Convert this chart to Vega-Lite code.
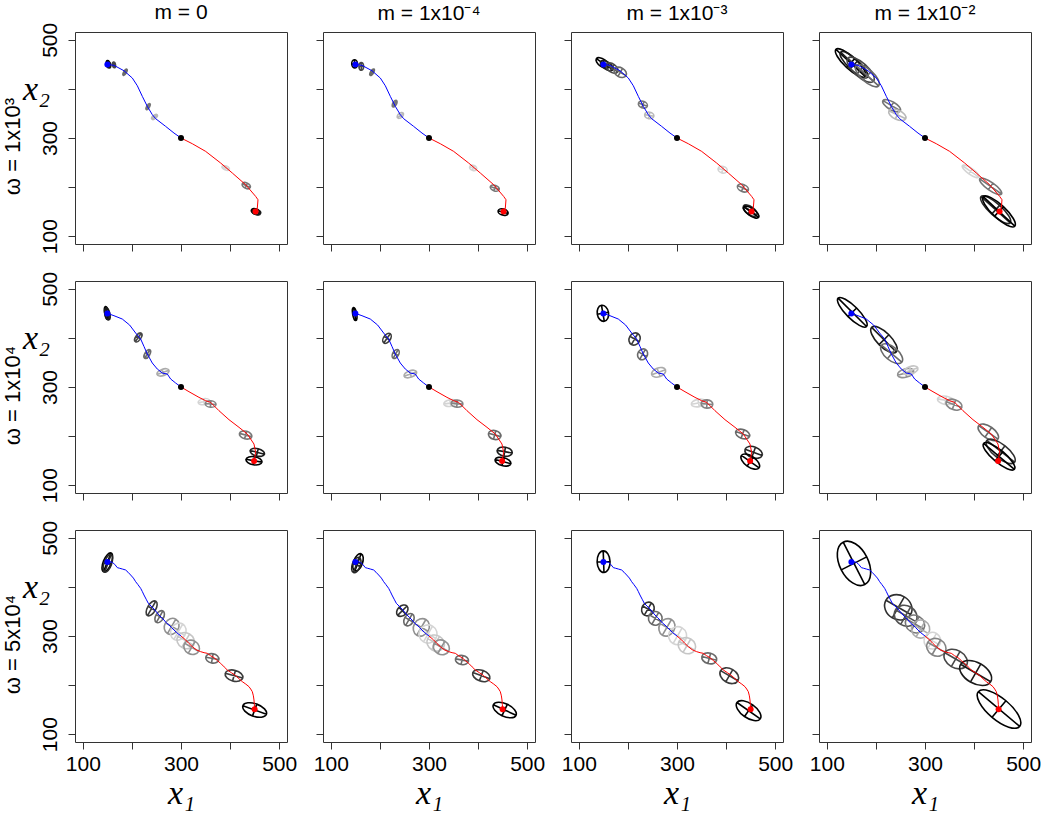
{
"$schema": "https://vega.github.io/schema/vega-lite/v6.json",
"background": "white",
"padding": {"left": 0, "top": 1, "right": 5, "bottom": 0},
"spacing": 15,
"datasets": {
"traj": [
{"row":1,"phase":"before","i":1,"x":150,"y":450},{"row":1,"phase":"before","i":2,"x":163.5,"y":448},{"row":1,"phase":"before","i":3,"x":183.8,"y":437.1},{"row":1,"phase":"before","i":4,"x":200.8,"y":422.2},{"row":1,"phase":"before","i":5,"x":211,"y":406.5},{"row":1,"phase":"before","i":6,"x":221.2,"y":384.8},{"row":1,"phase":"before","i":7,"x":231.4,"y":364.4},{"row":1,"phase":"before","i":8,"x":241.6,"y":347.5},{"row":1,"phase":"before","i":9,"x":248.4,"y":339.3},{"row":1,"phase":"before","i":10,"x":268.7,"y":323.7},{"row":1,"phase":"before","i":11,"x":285.7,"y":310.1},{"row":1,"phase":"before","i":12,"x":300,"y":300},
{"row":1,"phase":"after","i":13,"x":300,"y":300},{"row":1,"phase":"after","i":14,"x":323.1,"y":288.3},{"row":1,"phase":"after","i":15,"x":350.3,"y":272.7},{"row":1,"phase":"after","i":16,"x":380.8,"y":249},{"row":1,"phase":"after","i":17,"x":404.6,"y":228.6},{"row":1,"phase":"after","i":18,"x":431.8,"y":204.8},{"row":1,"phase":"after","i":19,"x":452.1,"y":181},{"row":1,"phase":"after","i":20,"x":456.9,"y":174.2},{"row":1,"phase":"after","i":21,"x":455.5,"y":157.2},{"row":1,"phase":"after","i":22,"x":452,"y":150},
{"row":2,"phase":"before","i":1,"x":150,"y":450},{"row":2,"phase":"before","i":2,"x":163.4,"y":445.3},{"row":2,"phase":"before","i":3,"x":180.4,"y":438.5},{"row":2,"phase":"before","i":4,"x":195.3,"y":426.3},{"row":2,"phase":"before","i":5,"x":207.6,"y":410},{"row":2,"phase":"before","i":6,"x":217.8,"y":397.8},{"row":2,"phase":"before","i":7,"x":224.5,"y":382.8},{"row":2,"phase":"before","i":8,"x":231.3,"y":367.2},{"row":2,"phase":"before","i":9,"x":241.5,"y":348.9},{"row":2,"phase":"before","i":10,"x":251.7,"y":336.6},{"row":2,"phase":"before","i":11,"x":261.9,"y":328.5},{"row":2,"phase":"before","i":12,"x":272.1,"y":326.4},{"row":2,"phase":"before","i":13,"x":278.9,"y":316.3},{"row":2,"phase":"before","i":14,"x":289.1,"y":308.1},{"row":2,"phase":"before","i":15,"x":300,"y":300},
{"row":2,"phase":"after","i":16,"x":300,"y":300},{"row":2,"phase":"after","i":17,"x":316.3,"y":290.4},{"row":2,"phase":"after","i":18,"x":336.6,"y":278.9},{"row":2,"phase":"after","i":19,"x":350.2,"y":272.1},{"row":2,"phase":"after","i":20,"x":360.4,"y":268.7},{"row":2,"phase":"after","i":21,"x":377.4,"y":251.7},{"row":2,"phase":"after","i":22,"x":397.8,"y":233.4},{"row":2,"phase":"after","i":23,"x":418.2,"y":217.8},{"row":2,"phase":"after","i":24,"x":435.1,"y":204.2},{"row":2,"phase":"after","i":25,"x":448.7,"y":183.8},{"row":2,"phase":"after","i":26,"x":452.1,"y":166.8},{"row":2,"phase":"after","i":27,"x":449,"y":149},
{"row":3,"phase":"before","i":1,"x":150,"y":451},{"row":3,"phase":"before","i":2,"x":155,"y":451.5},{"row":3,"phase":"before","i":3,"x":160,"y":450.1},{"row":3,"phase":"before","i":4,"x":165,"y":446},{"row":3,"phase":"before","i":5,"x":170.2,"y":439.3},{"row":3,"phase":"before","i":6,"x":175,"y":438},{"row":3,"phase":"before","i":7,"x":180.4,"y":436.5},{"row":3,"phase":"before","i":8,"x":187.2,"y":434.5},{"row":3,"phase":"before","i":9,"x":192,"y":430},{"row":3,"phase":"before","i":10,"x":197.4,"y":424.3},{"row":3,"phase":"before","i":11,"x":203,"y":418},{"row":3,"phase":"before","i":12,"x":207.6,"y":410.7},{"row":3,"phase":"before","i":13,"x":212,"y":405},{"row":3,"phase":"before","i":14,"x":217.8,"y":397.1},{"row":3,"phase":"before","i":15,"x":221,"y":391},{"row":3,"phase":"before","i":16,"x":224.5,"y":383.6},{"row":3,"phase":"before","i":17,"x":229,"y":375},{"row":3,"phase":"before","i":18,"x":233.4,"y":366.6},{"row":3,"phase":"before","i":19,"x":239,"y":361},{"row":3,"phase":"before","i":20,"x":244.9,"y":355},{"row":3,"phase":"before","i":21,"x":250,"y":349},{"row":3,"phase":"before","i":22,"x":255.1,"y":342.8},{"row":3,"phase":"before","i":23,"x":260,"y":338},{"row":3,"phase":"before","i":24,"x":265.3,"y":332.6},{"row":3,"phase":"before","i":25,"x":270,"y":327},{"row":3,"phase":"before","i":26,"x":275.5,"y":322.4},{"row":3,"phase":"before","i":27,"x":281,"y":317},{"row":3,"phase":"before","i":28,"x":285.7,"y":312.2},{"row":3,"phase":"before","i":29,"x":291,"y":307},{"row":3,"phase":"before","i":30,"x":300,"y":300},
{"row":3,"phase":"after","i":31,"x":300,"y":300},{"row":3,"phase":"after","i":32,"x":309.5,"y":291.9},{"row":3,"phase":"after","i":33,"x":316,"y":285},{"row":3,"phase":"after","i":34,"x":323.1,"y":278.3},{"row":3,"phase":"after","i":35,"x":331,"y":272},{"row":3,"phase":"after","i":36,"x":340,"y":268.1},{"row":3,"phase":"after","i":37,"x":347,"y":266},{"row":3,"phase":"after","i":38,"x":353.6,"y":264.7},{"row":3,"phase":"after","i":39,"x":360,"y":260},{"row":3,"phase":"after","i":40,"x":367.2,"y":255.9},{"row":3,"phase":"after","i":41,"x":374,"y":250},{"row":3,"phase":"after","i":42,"x":380.8,"y":244.3},{"row":3,"phase":"after","i":43,"x":388,"y":237},{"row":3,"phase":"after","i":44,"x":394.4,"y":230.7},{"row":3,"phase":"after","i":45,"x":403,"y":225},{"row":3,"phase":"after","i":46,"x":411.4,"y":219.2},{"row":3,"phase":"after","i":47,"x":418,"y":213},{"row":3,"phase":"after","i":48,"x":424.9,"y":207},{"row":3,"phase":"after","i":49,"x":432,"y":202},{"row":3,"phase":"after","i":50,"x":438.5,"y":196.8},{"row":3,"phase":"after","i":51,"x":442,"y":192},{"row":3,"phase":"after","i":52,"x":445.3,"y":186.6},{"row":3,"phase":"after","i":53,"x":447.5,"y":178},{"row":3,"phase":"after","i":54,"x":448.7,"y":169.6},{"row":3,"phase":"after","i":55,"x":449.5,"y":160},{"row":3,"phase":"after","i":56,"x":450,"y":150.6}
],
"pts": [
{"row":1,"kind":"start","x":150,"y":450},{"row":1,"kind":"mid","x":300,"y":300},{"row":1,"kind":"end","x":452,"y":150},
{"row":2,"kind":"start","x":150,"y":450},{"row":2,"kind":"mid","x":300,"y":300},{"row":2,"kind":"end","x":449,"y":149},
{"row":3,"kind":"start","x":150,"y":451},{"row":3,"kind":"end","x":450,"y":150.6}
],
"ell": [
{"row":1,"col":1,"x":151,"y":451,"major":14,"r":"0.5","angle":85,"shade":0},
{"row":1,"col":1,"x":153,"y":449,"major":13,"r":"0.6","angle":80,"shade":0.1},
{"row":1,"col":1,"x":163.5,"y":449,"major":12,"r":"0.5","angle":80,"shade":0.3},
{"row":1,"col":1,"x":186,"y":434,"major":14,"r":"0.4","angle":-60,"shade":0.45},
{"row":1,"col":1,"x":233,"y":364,"major":14,"r":"0.4","angle":-60,"shade":0.5},
{"row":1,"col":1,"x":246,"y":343,"major":14,"r":"0.5","angle":-40,"shade":0.75},
{"row":1,"col":1,"x":391,"y":239,"major":16,"r":"0.5","angle":20,"shade":0.85},
{"row":1,"col":1,"x":433,"y":203,"major":18,"r":"0.6","angle":25,"shade":0.5},
{"row":1,"col":1,"x":452,"y":150,"major":18,"r":"0.6","angle":20,"shade":0},
{"row":1,"col":1,"x":454,"y":149,"major":17,"r":"0.6","angle":15,"shade":0.1},
{"row":1,"col":2,"x":148.5,"y":451,"major":17,"r":"0.7","angle":85,"shade":0},
{"row":1,"col":2,"x":162,"y":446,"major":16,"r":"0.6","angle":85,"shade":0.3},
{"row":1,"col":2,"x":184,"y":434,"major":15,"r":"0.4","angle":-60,"shade":0.45},
{"row":1,"col":2,"x":230,"y":370,"major":15,"r":"0.5","angle":-60,"shade":0.5},
{"row":1,"col":2,"x":241.6,"y":346,"major":15,"r":"0.6","angle":-40,"shade":0.75},
{"row":1,"col":2,"x":390,"y":239,"major":15,"r":"0.7","angle":20,"shade":0.85},
{"row":1,"col":2,"x":434,"y":198,"major":19,"r":"0.6","angle":20,"shade":0.5},
{"row":1,"col":2,"x":451,"y":149,"major":21,"r":"0.6","angle":15,"shade":0},
{"row":1,"col":3,"x":148.4,"y":452.8,"major":31,"r":"0.5","angle":35,"shade":0},
{"row":1,"col":3,"x":157,"y":447.4,"major":30,"r":"0.5","angle":35,"shade":0.1},
{"row":1,"col":3,"x":167.4,"y":442.6,"major":28,"r":"0.6","angle":35,"shade":0.3},
{"row":1,"col":3,"x":184.4,"y":433.8,"major":27,"r":"0.7","angle":30,"shade":0.45},
{"row":1,"col":3,"x":230.5,"y":368,"major":19,"r":"0.7","angle":20,"shade":0.5},
{"row":1,"col":3,"x":243.5,"y":346,"major":19,"r":"0.7","angle":10,"shade":0.75},
{"row":1,"col":3,"x":393,"y":235.4,"major":19,"r":"0.7","angle":15,"shade":0.85},
{"row":1,"col":3,"x":434.3,"y":198,"major":24,"r":"0.6","angle":25,"shade":0.5},
{"row":1,"col":3,"x":449,"y":152,"major":33,"r":"0.5","angle":35,"shade":0.2},
{"row":1,"col":3,"x":451.3,"y":149,"major":37,"r":"0.4","angle":35,"shade":0},
{"row":1,"col":4,"x":148.5,"y":452.7,"major":82,"r":"0.3","angle":43,"shade":0},
{"row":1,"col":4,"x":155.3,"y":449.3,"major":75,"r":"0.3","angle":43,"shade":0.1},
{"row":1,"col":4,"x":168.9,"y":439.1,"major":70,"r":"0.4","angle":42,"shade":0.3},
{"row":1,"col":4,"x":182.4,"y":426.9,"major":62,"r":"0.4","angle":42,"shade":0.45},
{"row":1,"col":4,"x":232,"y":365.8,"major":41,"r":"0.4","angle":30,"shade":0.5},
{"row":1,"col":4,"x":243.6,"y":347.4,"major":38,"r":"0.5","angle":25,"shade":0.75},
{"row":1,"col":4,"x":393,"y":232,"major":41,"r":"0.3","angle":35,"shade":0.85},
{"row":1,"col":4,"x":433.8,"y":201.4,"major":54,"r":"0.3","angle":35,"shade":0.5},
{"row":1,"col":4,"x":444,"y":153.8,"major":80,"r":"0.3","angle":42,"shade":0.15},
{"row":1,"col":4,"x":450.8,"y":150.4,"major":88,"r":"0.3","angle":43,"shade":0},
{"row":2,"col":1,"x":148.5,"y":450.8,"major":27,"r":"0.3","angle":80,"shade":0},
{"row":2,"col":1,"x":150,"y":449,"major":25,"r":"0.4","angle":75,"shade":0.1},
{"row":2,"col":1,"x":213,"y":401,"major":21,"r":"0.5","angle":-55,"shade":0.3},
{"row":2,"col":1,"x":231.3,"y":367.2,"major":20,"r":"0.5","angle":-60,"shade":0.45},
{"row":2,"col":1,"x":263.3,"y":329.8,"major":26,"r":"0.5","angle":-20,"shade":0.7},
{"row":2,"col":1,"x":346.8,"y":270.1,"major":24,"r":"0.5","angle":-10,"shade":0.85},
{"row":2,"col":1,"x":360.4,"y":265.3,"major":22,"r":"0.6","angle":5,"shade":0.55},
{"row":2,"col":1,"x":431.7,"y":202.1,"major":26,"r":"0.6","angle":15,"shade":0.5},
{"row":2,"col":1,"x":455.5,"y":166.8,"major":30,"r":"0.5","angle":15,"shade":0.1},
{"row":2,"col":1,"x":448.7,"y":149.8,"major":33,"r":"0.5","angle":10,"shade":0},
{"row":2,"col":2,"x":148.5,"y":448.8,"major":27,"r":"0.3","angle":80,"shade":0},
{"row":2,"col":2,"x":214.4,"y":399.2,"major":23,"r":"0.6","angle":-55,"shade":0.25},
{"row":2,"col":2,"x":232.1,"y":367.3,"major":20,"r":"0.6","angle":-60,"shade":0.45},
{"row":2,"col":2,"x":262,"y":326.5,"major":27,"r":"0.5","angle":-20,"shade":0.7},
{"row":2,"col":2,"x":343.5,"y":267.4,"major":27,"r":"0.5","angle":-10,"shade":0.85},
{"row":2,"col":2,"x":357.1,"y":266.1,"major":24,"r":"0.6","angle":5,"shade":0.55},
{"row":2,"col":2,"x":433.8,"y":202.2,"major":26,"r":"0.7","angle":15,"shade":0.45},
{"row":2,"col":2,"x":454.2,"y":168.2,"major":31,"r":"0.6","angle":10,"shade":0.1},
{"row":2,"col":2,"x":450.8,"y":147.9,"major":33,"r":"0.5","angle":15,"shade":0},
{"row":2,"col":3,"x":149,"y":450.2,"major":33,"r":"0.7","angle":80,"shade":0},
{"row":2,"col":3,"x":213.6,"y":397.8,"major":26,"r":"0.85","angle":-60,"shade":0.25},
{"row":2,"col":3,"x":229.9,"y":366.6,"major":23,"r":"0.85","angle":-60,"shade":0.45},
{"row":2,"col":3,"x":262.5,"y":329.9,"major":30,"r":"0.6","angle":-20,"shade":0.7},
{"row":2,"col":3,"x":344,"y":267.4,"major":30,"r":"0.5","angle":-10,"shade":0.85},
{"row":2,"col":3,"x":361,"y":265.4,"major":24,"r":"0.7","angle":5,"shade":0.55},
{"row":2,"col":3,"x":433.7,"y":204.2,"major":30,"r":"0.6","angle":20,"shade":0.45},
{"row":2,"col":3,"x":456.1,"y":166.9,"major":37,"r":"0.6","angle":20,"shade":0.15},
{"row":2,"col":3,"x":449.3,"y":147.9,"major":44,"r":"0.5","angle":35,"shade":0},
{"row":2,"col":4,"x":151.9,"y":452.2,"major":82,"r":"0.3","angle":45,"shade":0},
{"row":2,"col":4,"x":216.4,"y":396.5,"major":71,"r":"0.4","angle":45,"shade":0.1},
{"row":2,"col":4,"x":232,"y":367.9,"major":54,"r":"0.5","angle":40,"shade":0.45},
{"row":2,"col":4,"x":260.6,"y":328.5,"major":34,"r":"0.5","angle":-15,"shade":0.6},
{"row":2,"col":4,"x":270.8,"y":334,"major":31,"r":"0.5","angle":-20,"shade":0.8},
{"row":2,"col":4,"x":342.1,"y":272.8,"major":34,"r":"0.5","angle":10,"shade":0.85},
{"row":2,"col":4,"x":359.1,"y":264,"major":34,"r":"0.6","angle":20,"shade":0.55},
{"row":2,"col":4,"x":429,"y":207.6,"major":48,"r":"0.5","angle":35,"shade":0.45},
{"row":2,"col":4,"x":454.2,"y":168.9,"major":72,"r":"0.4","angle":38,"shade":0.2},
{"row":2,"col":4,"x":450.8,"y":158.7,"major":82,"r":"0.3","angle":40,"shade":0},
{"row":3,"col":1,"x":149.8,"y":450.1,"major":41,"r":"0.4","angle":-68,"shade":0},
{"row":3,"col":1,"x":151,"y":448,"major":38,"r":"0.4","angle":-70,"shade":0.15},
{"row":3,"col":1,"x":240.2,"y":356.3,"major":34,"r":"0.5","angle":-60,"shade":0.25},
{"row":3,"col":1,"x":256.5,"y":339.4,"major":27,"r":"0.6","angle":-60,"shade":0.45},
{"row":3,"col":1,"x":280.9,"y":319.7,"major":34,"r":"0.85","angle":-60,"shade":0.6},
{"row":3,"col":1,"x":294.5,"y":308.8,"major":36,"r":"0.85","angle":-60,"shade":0.85},
{"row":3,"col":1,"x":309.5,"y":290.4,"major":37,"r":"0.85","angle":30,"shade":0.8},
{"row":3,"col":1,"x":321.7,"y":276.9,"major":33,"r":"0.85","angle":30,"shade":0.6},
{"row":3,"col":1,"x":363.8,"y":254.4,"major":27,"r":"0.7","angle":10,"shade":0.45},
{"row":3,"col":1,"x":408,"y":219.1,"major":37,"r":"0.6","angle":15,"shade":0.25},
{"row":3,"col":1,"x":450.1,"y":149.2,"major":51,"r":"0.5","angle":20,"shade":0},
{"row":3,"col":2,"x":155.3,"y":450.1,"major":37,"r":"0.5","angle":-70,"shade":0},
{"row":3,"col":2,"x":151.9,"y":444.7,"major":33,"r":"0.5","angle":-70,"shade":0.15},
{"row":3,"col":2,"x":245.6,"y":351.6,"major":27,"r":"0.7","angle":-45,"shade":0.2},
{"row":3,"col":2,"x":259.2,"y":333.3,"major":27,"r":"0.7","angle":-60,"shade":0.45},
{"row":3,"col":2,"x":284.4,"y":317.6,"major":37,"r":"0.85","angle":-60,"shade":0.6},
{"row":3,"col":2,"x":298,"y":304.1,"major":37,"r":"1","angle":-60,"shade":0.85},
{"row":3,"col":2,"x":313.6,"y":285.7,"major":37,"r":"0.85","angle":30,"shade":0.8},
{"row":3,"col":2,"x":325.1,"y":276.9,"major":34,"r":"0.85","angle":30,"shade":0.6},
{"row":3,"col":2,"x":367.2,"y":251.1,"major":27,"r":"0.7","angle":10,"shade":0.45},
{"row":3,"col":2,"x":406.6,"y":219.1,"major":37,"r":"0.6","angle":20,"shade":0.25},
{"row":3,"col":2,"x":454.2,"y":149.2,"major":51,"r":"0.5","angle":25,"shade":0},
{"row":3,"col":3,"x":150.4,"y":451.4,"major":44,"r":"0.6","angle":88,"shade":0},
{"row":3,"col":3,"x":240.7,"y":355,"major":29,"r":"0.85","angle":-60,"shade":0.2},
{"row":3,"col":3,"x":255.7,"y":336,"major":28,"r":"1","angle":-60,"shade":0.45},
{"row":3,"col":3,"x":279.5,"y":317.6,"major":37,"r":"0.85","angle":-60,"shade":0.6},
{"row":3,"col":3,"x":301.2,"y":300.6,"major":37,"r":"1","angle":-60,"shade":0.85},
{"row":3,"col":3,"x":320.2,"y":280.3,"major":37,"r":"0.85","angle":30,"shade":0.8},
{"row":3,"col":3,"x":365.7,"y":254.4,"major":31,"r":"0.7","angle":15,"shade":0.45},
{"row":3,"col":3,"x":406.5,"y":219.1,"major":41,"r":"0.7","angle":30,"shade":0.25},
{"row":3,"col":3,"x":445.9,"y":147.8,"major":58,"r":"0.5","angle":35,"shade":0},
{"row":3,"col":4,"x":155.3,"y":448,"major":97,"r":"0.6","angle":63,"shade":0},
{"row":3,"col":4,"x":245.6,"y":358.4,"major":58,"r":"0.85","angle":30,"shade":0.2},
{"row":3,"col":4,"x":260.6,"y":341.4,"major":48,"r":"0.85","angle":30,"shade":0.35},
{"row":3,"col":4,"x":279.6,"y":324.4,"major":41,"r":"0.85","angle":30,"shade":0.5},
{"row":3,"col":4,"x":291.1,"y":314.2,"major":37,"r":"1","angle":30,"shade":0.7},
{"row":3,"col":4,"x":314.9,"y":290.5,"major":34,"r":"1","angle":30,"shade":0.85},
{"row":3,"col":4,"x":323.1,"y":276.9,"major":41,"r":"0.85","angle":30,"shade":0.55},
{"row":3,"col":4,"x":362.5,"y":253.1,"major":51,"r":"0.7","angle":30,"shade":0.3},
{"row":3,"col":4,"x":403.2,"y":224.6,"major":71,"r":"0.6","angle":30,"shade":0.1},
{"row":3,"col":4,"x":450.8,"y":151.2,"major":110,"r":"0.4","angle":40,"shade":0}
]
},
"vconcat": [
{"spacing": 36, "bounds": "flush",
 "hconcat": [
{"width":212,"height":212,"title":{"text":"m = 0","frame":"group","anchor":"middle","offset":-18,"baseline":"alphabetic"},
 "resolve":{"scale":{"y":"independent"}},
 "encoding":{"x":{"field":"x","type":"quantitative","scale":{"domain":[84,516],"nice":false,"zero":false},"axis":{"title":null,"labels":false}}},
 "layer":[
  {"data":{"name":"ell"},"transform":[{"filter":"datum.row==1 && datum.col==1"}],"mark":{"type":"point","filled":false,"strokeWidth":1.6,"opacity":1},"encoding":{"y":{"field":"y","type":"quantitative","scale":{"domain":[84,516],"nice":false,"zero":false},"axis":{"title":"x₂","labels":true,"titleAngle":0,"titleX":-39,"titleY":57,"titleAlign":"center","titleBaseline":"middle"}},"size":{"field":"major","type":"quantitative","scale":{"type":"pow","exponent":2,"domain":[0,100],"range":[0,2408],"zero":true},"legend":null},"shape":{"field":"r","type":"nominal","scale":{"domain":["0.3","0.4","0.5","0.6","0.7","0.85","1"]},"legend":null},"angle":{"field":"angle","type":"quantitative","scale":null},"stroke":{"field":"shade","type":"quantitative","scale":{"domain":[0,1],"range":["#000000","#ffffff"]},"legend":null}}},
  {"data":{"name":"traj"},"transform":[{"filter":"datum.row==1"}],"mark":{"type":"line","strokeWidth":1},"encoding":{"y":{"field":"y","type":"quantitative","scale":{"domain":[84,516],"nice":false,"zero":false},"axis":{"orient":"left","title":"ω = 1x10³","labels":false,"ticks":false,"domain":false,"titleFont":"Liberation Sans","titleFontStyle":"normal","titleFontSize":22,"titleAngle":-90,"titleX":-56,"titleY":114,"titleAlign":"center","titleBaseline":"alphabetic"}},"color":{"field":"phase","type":"nominal","scale":{"domain":["before","after"],"range":["#0000ff","#ff0000"]},"legend":null},"order":{"field":"i","type":"quantitative"}}},
  {"data":{"name":"pts"},"transform":[{"filter":"datum.row==1"}],"mark":{"type":"circle","opacity":1,"size":36},"encoding":{"y":{"field":"y","type":"quantitative","scale":{"domain":[84,516],"nice":false,"zero":false},"axis":null},"fill":{"field":"kind","type":"nominal","scale":{"domain":["start","mid","end"],"range":["#0000ff","#000000","#ff0000"]},"legend":null}}}
 ]},
{"width":212,"height":212,"title":{"text":"m = 1x10⁻⁴","frame":"group","anchor":"middle","offset":-9,"baseline":"alphabetic"},
 "encoding":{"x":{"field":"x","type":"quantitative","scale":{"domain":[84,516],"nice":false,"zero":false},"axis":{"title":null,"labels":false}},"y":{"field":"y","type":"quantitative","scale":{"domain":[84,516],"nice":false,"zero":false},"axis":{"title":null,"labels":false}}},
 "layer":[
  {"data":{"name":"ell"},"transform":[{"filter":"datum.row==1 && datum.col==2"}],"mark":{"type":"point","filled":false,"strokeWidth":1.6,"opacity":1},"encoding":{"size":{"field":"major","type":"quantitative","scale":{"type":"pow","exponent":2,"domain":[0,100],"range":[0,2408],"zero":true},"legend":null},"shape":{"field":"r","type":"nominal","scale":{"domain":["0.3","0.4","0.5","0.6","0.7","0.85","1"]},"legend":null},"angle":{"field":"angle","type":"quantitative","scale":null},"stroke":{"field":"shade","type":"quantitative","scale":{"domain":[0,1],"range":["#000000","#ffffff"]},"legend":null}}},
  {"data":{"name":"traj"},"transform":[{"filter":"datum.row==1"}],"mark":{"type":"line","strokeWidth":1},"encoding":{"color":{"field":"phase","type":"nominal","scale":{"domain":["before","after"],"range":["#0000ff","#ff0000"]},"legend":null},"order":{"field":"i","type":"quantitative"}}},
  {"data":{"name":"pts"},"transform":[{"filter":"datum.row==1"}],"mark":{"type":"circle","opacity":1,"size":36},"encoding":{"fill":{"field":"kind","type":"nominal","scale":{"domain":["start","mid","end"],"range":["#0000ff","#000000","#ff0000"]},"legend":null}}}
 ]},
{"width":212,"height":212,"title":{"text":"m = 1x10⁻³","frame":"group","anchor":"middle","offset":-9,"baseline":"alphabetic"},
 "encoding":{"x":{"field":"x","type":"quantitative","scale":{"domain":[84,516],"nice":false,"zero":false},"axis":{"title":null,"labels":false}},"y":{"field":"y","type":"quantitative","scale":{"domain":[84,516],"nice":false,"zero":false},"axis":{"title":null,"labels":false}}},
 "layer":[
  {"data":{"name":"ell"},"transform":[{"filter":"datum.row==1 && datum.col==3"}],"mark":{"type":"point","filled":false,"strokeWidth":1.6,"opacity":1},"encoding":{"size":{"field":"major","type":"quantitative","scale":{"type":"pow","exponent":2,"domain":[0,100],"range":[0,2408],"zero":true},"legend":null},"shape":{"field":"r","type":"nominal","scale":{"domain":["0.3","0.4","0.5","0.6","0.7","0.85","1"]},"legend":null},"angle":{"field":"angle","type":"quantitative","scale":null},"stroke":{"field":"shade","type":"quantitative","scale":{"domain":[0,1],"range":["#000000","#ffffff"]},"legend":null}}},
  {"data":{"name":"traj"},"transform":[{"filter":"datum.row==1"}],"mark":{"type":"line","strokeWidth":1},"encoding":{"color":{"field":"phase","type":"nominal","scale":{"domain":["before","after"],"range":["#0000ff","#ff0000"]},"legend":null},"order":{"field":"i","type":"quantitative"}}},
  {"data":{"name":"pts"},"transform":[{"filter":"datum.row==1"}],"mark":{"type":"circle","opacity":1,"size":36},"encoding":{"fill":{"field":"kind","type":"nominal","scale":{"domain":["start","mid","end"],"range":["#0000ff","#000000","#ff0000"]},"legend":null}}}
 ]},
{"width":212,"height":212,"title":{"text":"m = 1x10⁻²","frame":"group","anchor":"middle","offset":-9,"baseline":"alphabetic"},
 "encoding":{"x":{"field":"x","type":"quantitative","scale":{"domain":[84,516],"nice":false,"zero":false},"axis":{"title":null,"labels":false}},"y":{"field":"y","type":"quantitative","scale":{"domain":[84,516],"nice":false,"zero":false},"axis":{"title":null,"labels":false}}},
 "layer":[
  {"data":{"name":"ell"},"transform":[{"filter":"datum.row==1 && datum.col==4"}],"mark":{"type":"point","filled":false,"strokeWidth":1.6,"opacity":1},"encoding":{"size":{"field":"major","type":"quantitative","scale":{"type":"pow","exponent":2,"domain":[0,100],"range":[0,2408],"zero":true},"legend":null},"shape":{"field":"r","type":"nominal","scale":{"domain":["0.3","0.4","0.5","0.6","0.7","0.85","1"]},"legend":null},"angle":{"field":"angle","type":"quantitative","scale":null},"stroke":{"field":"shade","type":"quantitative","scale":{"domain":[0,1],"range":["#000000","#ffffff"]},"legend":null}}},
  {"data":{"name":"traj"},"transform":[{"filter":"datum.row==1"}],"mark":{"type":"line","strokeWidth":1},"encoding":{"color":{"field":"phase","type":"nominal","scale":{"domain":["before","after"],"range":["#0000ff","#ff0000"]},"legend":null},"order":{"field":"i","type":"quantitative"}}},
  {"data":{"name":"pts"},"transform":[{"filter":"datum.row==1"}],"mark":{"type":"circle","opacity":1,"size":36},"encoding":{"fill":{"field":"kind","type":"nominal","scale":{"domain":["start","mid","end"],"range":["#0000ff","#000000","#ff0000"]},"legend":null}}}
 ]}
 ]},
{"spacing": 36, "bounds": "flush",
 "hconcat": [
{"width":212,"height":212,
 "resolve":{"scale":{"y":"independent"}},
 "encoding":{"x":{"field":"x","type":"quantitative","scale":{"domain":[84,516],"nice":false,"zero":false},"axis":{"title":null,"labels":false}}},
 "layer":[
  {"data":{"name":"ell"},"transform":[{"filter":"datum.row==2 && datum.col==1"}],"mark":{"type":"point","filled":false,"strokeWidth":1.6,"opacity":1},"encoding":{"y":{"field":"y","type":"quantitative","scale":{"domain":[84,516],"nice":false,"zero":false},"axis":{"title":"x₂","labels":true,"titleAngle":0,"titleX":-39,"titleY":57,"titleAlign":"center","titleBaseline":"middle"}},"size":{"field":"major","type":"quantitative","scale":{"type":"pow","exponent":2,"domain":[0,100],"range":[0,2408],"zero":true},"legend":null},"shape":{"field":"r","type":"nominal","scale":{"domain":["0.3","0.4","0.5","0.6","0.7","0.85","1"]},"legend":null},"angle":{"field":"angle","type":"quantitative","scale":null},"stroke":{"field":"shade","type":"quantitative","scale":{"domain":[0,1],"range":["#000000","#ffffff"]},"legend":null}}},
  {"data":{"name":"traj"},"transform":[{"filter":"datum.row==2"}],"mark":{"type":"line","strokeWidth":1},"encoding":{"y":{"field":"y","type":"quantitative","scale":{"domain":[84,516],"nice":false,"zero":false},"axis":{"orient":"left","title":"ω = 1x10⁴","labels":false,"ticks":false,"domain":false,"titleFont":"Liberation Sans","titleFontStyle":"normal","titleFontSize":22,"titleAngle":-90,"titleX":-56,"titleY":114,"titleAlign":"center","titleBaseline":"alphabetic"}},"color":{"field":"phase","type":"nominal","scale":{"domain":["before","after"],"range":["#0000ff","#ff0000"]},"legend":null},"order":{"field":"i","type":"quantitative"}}},
  {"data":{"name":"pts"},"transform":[{"filter":"datum.row==2"}],"mark":{"type":"circle","opacity":1,"size":36},"encoding":{"y":{"field":"y","type":"quantitative","scale":{"domain":[84,516],"nice":false,"zero":false},"axis":null},"fill":{"field":"kind","type":"nominal","scale":{"domain":["start","mid","end"],"range":["#0000ff","#000000","#ff0000"]},"legend":null}}}
 ]},
{"width":212,"height":212,
 "encoding":{"x":{"field":"x","type":"quantitative","scale":{"domain":[84,516],"nice":false,"zero":false},"axis":{"title":null,"labels":false}},"y":{"field":"y","type":"quantitative","scale":{"domain":[84,516],"nice":false,"zero":false},"axis":{"title":null,"labels":false}}},
 "layer":[
  {"data":{"name":"ell"},"transform":[{"filter":"datum.row==2 && datum.col==2"}],"mark":{"type":"point","filled":false,"strokeWidth":1.6,"opacity":1},"encoding":{"size":{"field":"major","type":"quantitative","scale":{"type":"pow","exponent":2,"domain":[0,100],"range":[0,2408],"zero":true},"legend":null},"shape":{"field":"r","type":"nominal","scale":{"domain":["0.3","0.4","0.5","0.6","0.7","0.85","1"]},"legend":null},"angle":{"field":"angle","type":"quantitative","scale":null},"stroke":{"field":"shade","type":"quantitative","scale":{"domain":[0,1],"range":["#000000","#ffffff"]},"legend":null}}},
  {"data":{"name":"traj"},"transform":[{"filter":"datum.row==2"}],"mark":{"type":"line","strokeWidth":1},"encoding":{"color":{"field":"phase","type":"nominal","scale":{"domain":["before","after"],"range":["#0000ff","#ff0000"]},"legend":null},"order":{"field":"i","type":"quantitative"}}},
  {"data":{"name":"pts"},"transform":[{"filter":"datum.row==2"}],"mark":{"type":"circle","opacity":1,"size":36},"encoding":{"fill":{"field":"kind","type":"nominal","scale":{"domain":["start","mid","end"],"range":["#0000ff","#000000","#ff0000"]},"legend":null}}}
 ]},
{"width":212,"height":212,
 "encoding":{"x":{"field":"x","type":"quantitative","scale":{"domain":[84,516],"nice":false,"zero":false},"axis":{"title":null,"labels":false}},"y":{"field":"y","type":"quantitative","scale":{"domain":[84,516],"nice":false,"zero":false},"axis":{"title":null,"labels":false}}},
 "layer":[
  {"data":{"name":"ell"},"transform":[{"filter":"datum.row==2 && datum.col==3"}],"mark":{"type":"point","filled":false,"strokeWidth":1.6,"opacity":1},"encoding":{"size":{"field":"major","type":"quantitative","scale":{"type":"pow","exponent":2,"domain":[0,100],"range":[0,2408],"zero":true},"legend":null},"shape":{"field":"r","type":"nominal","scale":{"domain":["0.3","0.4","0.5","0.6","0.7","0.85","1"]},"legend":null},"angle":{"field":"angle","type":"quantitative","scale":null},"stroke":{"field":"shade","type":"quantitative","scale":{"domain":[0,1],"range":["#000000","#ffffff"]},"legend":null}}},
  {"data":{"name":"traj"},"transform":[{"filter":"datum.row==2"}],"mark":{"type":"line","strokeWidth":1},"encoding":{"color":{"field":"phase","type":"nominal","scale":{"domain":["before","after"],"range":["#0000ff","#ff0000"]},"legend":null},"order":{"field":"i","type":"quantitative"}}},
  {"data":{"name":"pts"},"transform":[{"filter":"datum.row==2"}],"mark":{"type":"circle","opacity":1,"size":36},"encoding":{"fill":{"field":"kind","type":"nominal","scale":{"domain":["start","mid","end"],"range":["#0000ff","#000000","#ff0000"]},"legend":null}}}
 ]},
{"width":212,"height":212,
 "encoding":{"x":{"field":"x","type":"quantitative","scale":{"domain":[84,516],"nice":false,"zero":false},"axis":{"title":null,"labels":false}},"y":{"field":"y","type":"quantitative","scale":{"domain":[84,516],"nice":false,"zero":false},"axis":{"title":null,"labels":false}}},
 "layer":[
  {"data":{"name":"ell"},"transform":[{"filter":"datum.row==2 && datum.col==4"}],"mark":{"type":"point","filled":false,"strokeWidth":1.6,"opacity":1},"encoding":{"size":{"field":"major","type":"quantitative","scale":{"type":"pow","exponent":2,"domain":[0,100],"range":[0,2408],"zero":true},"legend":null},"shape":{"field":"r","type":"nominal","scale":{"domain":["0.3","0.4","0.5","0.6","0.7","0.85","1"]},"legend":null},"angle":{"field":"angle","type":"quantitative","scale":null},"stroke":{"field":"shade","type":"quantitative","scale":{"domain":[0,1],"range":["#000000","#ffffff"]},"legend":null}}},
  {"data":{"name":"traj"},"transform":[{"filter":"datum.row==2"}],"mark":{"type":"line","strokeWidth":1},"encoding":{"color":{"field":"phase","type":"nominal","scale":{"domain":["before","after"],"range":["#0000ff","#ff0000"]},"legend":null},"order":{"field":"i","type":"quantitative"}}},
  {"data":{"name":"pts"},"transform":[{"filter":"datum.row==2"}],"mark":{"type":"circle","opacity":1,"size":36},"encoding":{"fill":{"field":"kind","type":"nominal","scale":{"domain":["start","mid","end"],"range":["#0000ff","#000000","#ff0000"]},"legend":null}}}
 ]}
 ]},
{"spacing": 36, "bounds": "flush",
 "hconcat": [
{"width":212,"height":212,
 "resolve":{"scale":{"y":"independent"}},
 "encoding":{"x":{"field":"x","type":"quantitative","scale":{"domain":[84,516],"nice":false,"zero":false},"axis":{"title":"x₁","labels":true}}},
 "layer":[
  {"data":{"name":"ell"},"transform":[{"filter":"datum.row==3 && datum.col==1"}],"mark":{"type":"point","filled":false,"strokeWidth":1.6,"opacity":1},"encoding":{"y":{"field":"y","type":"quantitative","scale":{"domain":[84,516],"nice":false,"zero":false},"axis":{"title":"x₂","labels":true,"titleAngle":0,"titleX":-39,"titleY":57,"titleAlign":"center","titleBaseline":"middle"}},"size":{"field":"major","type":"quantitative","scale":{"type":"pow","exponent":2,"domain":[0,100],"range":[0,2408],"zero":true},"legend":null},"shape":{"field":"r","type":"nominal","scale":{"domain":["0.3","0.4","0.5","0.6","0.7","0.85","1"]},"legend":null},"angle":{"field":"angle","type":"quantitative","scale":null},"stroke":{"field":"shade","type":"quantitative","scale":{"domain":[0,1],"range":["#000000","#ffffff"]},"legend":null}}},
  {"data":{"name":"traj"},"transform":[{"filter":"datum.row==3"}],"mark":{"type":"line","strokeWidth":1},"encoding":{"y":{"field":"y","type":"quantitative","scale":{"domain":[84,516],"nice":false,"zero":false},"axis":{"orient":"left","title":"ω = 5x10⁴","labels":false,"ticks":false,"domain":false,"titleFont":"Liberation Sans","titleFontStyle":"normal","titleFontSize":22,"titleAngle":-90,"titleX":-56,"titleY":114,"titleAlign":"center","titleBaseline":"alphabetic"}},"color":{"field":"phase","type":"nominal","scale":{"domain":["before","after"],"range":["#0000ff","#ff0000"]},"legend":null},"order":{"field":"i","type":"quantitative"}}},
  {"data":{"name":"pts"},"transform":[{"filter":"datum.row==3"}],"mark":{"type":"circle","opacity":1,"size":36},"encoding":{"y":{"field":"y","type":"quantitative","scale":{"domain":[84,516],"nice":false,"zero":false},"axis":null},"fill":{"field":"kind","type":"nominal","scale":{"domain":["start","mid","end"],"range":["#0000ff","#000000","#ff0000"]},"legend":null}}}
 ]},
{"width":212,"height":212,
 "encoding":{"x":{"field":"x","type":"quantitative","scale":{"domain":[84,516],"nice":false,"zero":false},"axis":{"title":"x₁","labels":true}},"y":{"field":"y","type":"quantitative","scale":{"domain":[84,516],"nice":false,"zero":false},"axis":{"title":null,"labels":false}}},
 "layer":[
  {"data":{"name":"ell"},"transform":[{"filter":"datum.row==3 && datum.col==2"}],"mark":{"type":"point","filled":false,"strokeWidth":1.6,"opacity":1},"encoding":{"size":{"field":"major","type":"quantitative","scale":{"type":"pow","exponent":2,"domain":[0,100],"range":[0,2408],"zero":true},"legend":null},"shape":{"field":"r","type":"nominal","scale":{"domain":["0.3","0.4","0.5","0.6","0.7","0.85","1"]},"legend":null},"angle":{"field":"angle","type":"quantitative","scale":null},"stroke":{"field":"shade","type":"quantitative","scale":{"domain":[0,1],"range":["#000000","#ffffff"]},"legend":null}}},
  {"data":{"name":"traj"},"transform":[{"filter":"datum.row==3"}],"mark":{"type":"line","strokeWidth":1},"encoding":{"color":{"field":"phase","type":"nominal","scale":{"domain":["before","after"],"range":["#0000ff","#ff0000"]},"legend":null},"order":{"field":"i","type":"quantitative"}}},
  {"data":{"name":"pts"},"transform":[{"filter":"datum.row==3"}],"mark":{"type":"circle","opacity":1,"size":36},"encoding":{"fill":{"field":"kind","type":"nominal","scale":{"domain":["start","mid","end"],"range":["#0000ff","#000000","#ff0000"]},"legend":null}}}
 ]},
{"width":212,"height":212,
 "encoding":{"x":{"field":"x","type":"quantitative","scale":{"domain":[84,516],"nice":false,"zero":false},"axis":{"title":"x₁","labels":true}},"y":{"field":"y","type":"quantitative","scale":{"domain":[84,516],"nice":false,"zero":false},"axis":{"title":null,"labels":false}}},
 "layer":[
  {"data":{"name":"ell"},"transform":[{"filter":"datum.row==3 && datum.col==3"}],"mark":{"type":"point","filled":false,"strokeWidth":1.6,"opacity":1},"encoding":{"size":{"field":"major","type":"quantitative","scale":{"type":"pow","exponent":2,"domain":[0,100],"range":[0,2408],"zero":true},"legend":null},"shape":{"field":"r","type":"nominal","scale":{"domain":["0.3","0.4","0.5","0.6","0.7","0.85","1"]},"legend":null},"angle":{"field":"angle","type":"quantitative","scale":null},"stroke":{"field":"shade","type":"quantitative","scale":{"domain":[0,1],"range":["#000000","#ffffff"]},"legend":null}}},
  {"data":{"name":"traj"},"transform":[{"filter":"datum.row==3"}],"mark":{"type":"line","strokeWidth":1},"encoding":{"color":{"field":"phase","type":"nominal","scale":{"domain":["before","after"],"range":["#0000ff","#ff0000"]},"legend":null},"order":{"field":"i","type":"quantitative"}}},
  {"data":{"name":"pts"},"transform":[{"filter":"datum.row==3"}],"mark":{"type":"circle","opacity":1,"size":36},"encoding":{"fill":{"field":"kind","type":"nominal","scale":{"domain":["start","mid","end"],"range":["#0000ff","#000000","#ff0000"]},"legend":null}}}
 ]},
{"width":212,"height":212,
 "encoding":{"x":{"field":"x","type":"quantitative","scale":{"domain":[84,516],"nice":false,"zero":false},"axis":{"title":"x₁","labels":true}},"y":{"field":"y","type":"quantitative","scale":{"domain":[84,516],"nice":false,"zero":false},"axis":{"title":null,"labels":false}}},
 "layer":[
  {"data":{"name":"ell"},"transform":[{"filter":"datum.row==3 && datum.col==4"}],"mark":{"type":"point","filled":false,"strokeWidth":1.6,"opacity":1},"encoding":{"size":{"field":"major","type":"quantitative","scale":{"type":"pow","exponent":2,"domain":[0,100],"range":[0,2408],"zero":true},"legend":null},"shape":{"field":"r","type":"nominal","scale":{"domain":["0.3","0.4","0.5","0.6","0.7","0.85","1"]},"legend":null},"angle":{"field":"angle","type":"quantitative","scale":null},"stroke":{"field":"shade","type":"quantitative","scale":{"domain":[0,1],"range":["#000000","#ffffff"]},"legend":null}}},
  {"data":{"name":"traj"},"transform":[{"filter":"datum.row==3"}],"mark":{"type":"line","strokeWidth":1},"encoding":{"color":{"field":"phase","type":"nominal","scale":{"domain":["before","after"],"range":["#0000ff","#ff0000"]},"legend":null},"order":{"field":"i","type":"quantitative"}}},
  {"data":{"name":"pts"},"transform":[{"filter":"datum.row==3"}],"mark":{"type":"circle","opacity":1,"size":36},"encoding":{"fill":{"field":"kind","type":"nominal","scale":{"domain":["start","mid","end"],"range":["#0000ff","#000000","#ff0000"]},"legend":null}}}
 ]}
 ]}
],
"config": {
 "view": {"stroke": "#333333", "strokeWidth": 1},
 "range": {"symbol": [
  "M1,0C1,0.166 0.552,0.3 0,0.3C-0.552,0.3 -1,0.166 -1,0C-1,-0.166 -0.552,-0.3 0,-0.3C0.552,-0.3 1,-0.166 1,0ZM-1,0L1,0M0,-0.3L0,0.3",
  "M1,0C1,0.221 0.552,0.4 0,0.4C-0.552,0.4 -1,0.221 -1,0C-1,-0.221 -0.552,-0.4 0,-0.4C0.552,-0.4 1,-0.221 1,0ZM-1,0L1,0M0,-0.4L0,0.4",
  "M1,0C1,0.276 0.552,0.5 0,0.5C-0.552,0.5 -1,0.276 -1,0C-1,-0.276 -0.552,-0.5 0,-0.5C0.552,-0.5 1,-0.276 1,0ZM-1,0L1,0M0,-0.5L0,0.5",
  "M1,0C1,0.331 0.552,0.6 0,0.6C-0.552,0.6 -1,0.331 -1,0C-1,-0.331 -0.552,-0.6 0,-0.6C0.552,-0.6 1,-0.331 1,0ZM-1,0L1,0M0,-0.6L0,0.6",
  "M1,0C1,0.387 0.552,0.7 0,0.7C-0.552,0.7 -1,0.387 -1,0C-1,-0.387 -0.552,-0.7 0,-0.7C0.552,-0.7 1,-0.387 1,0ZM-1,0L1,0M0,-0.7L0,0.7",
  "M1,0C1,0.469 0.552,0.85 0,0.85C-0.552,0.85 -1,0.469 -1,0C-1,-0.469 -0.552,-0.85 0,-0.85C0.552,-0.85 1,-0.469 1,0ZM-1,0L1,0M0,-0.85L0,0.85",
  "M1,0C1,0.552 0.552,1 0,1C-0.552,1 -1,0.552 -1,0C-1,-0.552 -0.552,-1 0,-1C0.552,-1 1,-0.552 1,0ZM-1,0L1,0M0,-1L0,1"
 ]},
 "title": {"font": "Liberation Sans", "fontSize": 21, "fontWeight": "normal", "color": "#000000"},
 "axis": {
  "values": [100, 200, 300, 400, 500],
  "labelExpr": "datum.value % 200 == 100 ? datum.label : ''",
  "grid": false, "domain": false, "tickSize": 7, "tickColor": "#333333", "tickWidth": 1,
  "labelFont": "Liberation Sans", "labelFontSize": 21, "labelColor": "#000000", "labelOverlap": false, "labelBound": false, "labelFlush": false,
  "titleFont": "Liberation Serif", "titleFontStyle": "italic", "titleFontSize": 34, "titleFontWeight": "normal", "titleColor": "#000000"
 },
 "axisX": {"labelPadding": 4, "titlePadding": 2},
 "axisY": {"labelAngle": -90, "labelPadding": 8}
}
}
